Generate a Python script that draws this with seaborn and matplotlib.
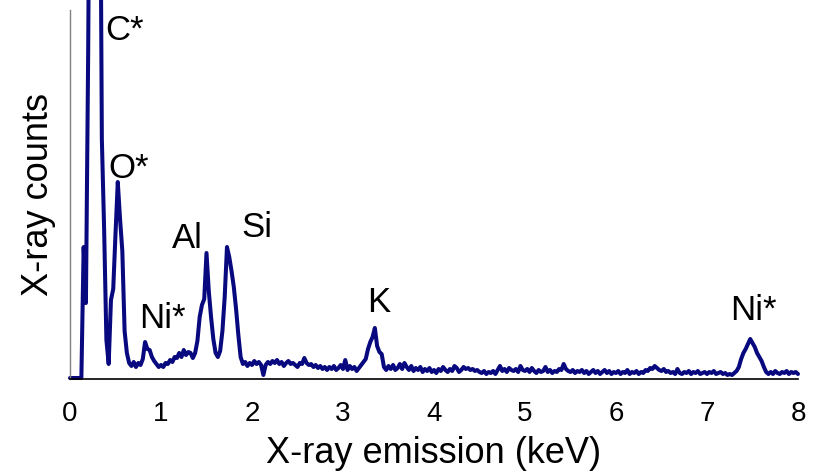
import numpy as np
import pandas as pd
import matplotlib
matplotlib.use("Agg")
import matplotlib.pyplot as plt
import seaborn as sns

# EDS spectrum, 0.025 keV channels from 0 to 8 keV (one row = 0.5 keV)
channel_width_kev = 0.025
counts = [
    1, 1, 1, 1, 1, 1, 132, 76, 330, 700, 950, 1000, 900, 650, 240, 150, 39, 15, 79, 90,
    145, 197, 160, 128, 48, 26, 16, 13, 17, 12, 16, 14, 20, 37, 30, 29, 22, 18, 15, 12,
    14, 12, 16, 15, 19, 17, 22, 21, 26, 22, 29, 24, 27, 26, 21, 26, 38, 62, 74, 80,
    126, 88, 62, 40, 26, 22, 28, 48, 82, 132, 122, 108, 92, 70, 44, 22, 15, 17, 13, 16,
    14, 18, 15, 17, 14, 4, 14, 17, 15, 18, 16, 19, 15, 17, 13, 16, 18, 15, 16, 14,
    12, 16, 15, 21, 16, 14, 15, 12, 14, 11, 13, 10, 12, 9, 12, 10, 13, 9, 11, 14,
    10, 19, 9, 13, 10, 12, 8, 11, 14, 17, 20, 30, 37, 42, 51, 33, 27, 25, 12, 9,
    13, 10, 14, 9, 11, 15, 10, 16, 12, 9, 13, 8, 11, 9, 12, 7, 10, 8, 11, 7,
    9, 6, 10, 8, 12, 9, 7, 10, 8, 13, 11, 7, 9, 12, 10, 11, 9, 10, 8, 9,
    7, 6, 8, 5, 7, 6, 8, 5, 9, 13, 8, 10, 7, 11, 9, 8, 10, 7, 13, 9,
    8, 10, 7, 11, 8, 6, 9, 7, 8, 12, 7, 9, 6, 8, 7, 10, 9, 15, 10, 8,
    7, 9, 6, 8, 7, 9, 6, 8, 5, 7, 9, 6, 8, 5, 7, 9, 6, 8, 5, 7,
    6, 8, 5, 7, 6, 9, 5, 7, 6, 8, 5, 7, 6, 9, 8, 11, 10, 13, 11, 9,
    8, 10, 7, 8, 6, 7, 5, 10, 6, 5, 7, 6, 8, 5, 7, 6, 8, 5, 6, 7,
    5, 7, 6, 8, 5, 6, 7, 5, 6, 4, 5, 4, 6, 8, 12, 20, 26, 30, 35, 40,
    36, 32, 26, 22, 18, 12, 7, 5, 7, 5, 8, 6, 5, 7, 6, 8, 5, 7, 6, 7,
    5,
]
energy_kev = np.arange(len(counts)) * channel_width_kev

# Peak labels: text, energy of the label's left edge, count level of its baseline
peak_labels = ["C*", "O*", "Ni*", "Al", "Si", "K", "Ni*"]
label_kev = [0.385, 0.423, 0.764, 1.121, 1.885, 3.26, 7.25]
label_counts = [339, 201, 51, 131, 142, 67, 59]

x_ticks = [0, 1, 2, 3, 4, 5, 6, 7, 8]

spectrum = pd.DataFrame({"energy": energy_kev, "counts": counts})

sns.set_style("white")
plt.rcParams["font.family"] = ["Liberation Sans", "DejaVu Sans"]
plt.rcParams["text.color"] = "black"
plt.rcParams["axes.labelcolor"] = "black"
plt.rcParams["xtick.color"] = "black"

fig = plt.figure(figsize=(8.21, 4.73), dpi=100)
ax = fig.add_axes([70 / 821, 94 / 473, 728 / 821, 369 / 473])

line_color = "#08087f"
sns.lineplot(data=spectrum, x="energy", y="counts", ax=ax, color=line_color,
             linewidth=2.9, estimator=None, sort=False, clip_on=False)

ax.set_xlim(0, 8)
ax.set_ylim(0, 369)
ax.set_xticks(x_ticks)
ax.set_xticklabels([str(t) for t in x_ticks], fontsize=20, color="black")
ax.set_yticks([])
ax.tick_params(axis="both", length=0)
ax.tick_params(axis="x", pad=16)

ax.set_xlabel("X-ray emission (keV)", fontsize=26, labelpad=6, color="black")
ax.set_ylabel("X-ray counts", fontsize=26, labelpad=10, color="black")

for side in ("top", "right"):
    ax.spines[side].set_visible(False)
ax.spines["left"].set_color("#808080")
ax.spines["left"].set_linewidth(1.0)
ax.spines["bottom"].set_color("black")
ax.spines["bottom"].set_linewidth(1.2)

for text, xk, yc in zip(peak_labels, label_kev, label_counts):
    ax.text(xk, yc, text, fontsize=25, ha="left", va="baseline", color="black")

fig.savefig("out.png", dpi=100)
